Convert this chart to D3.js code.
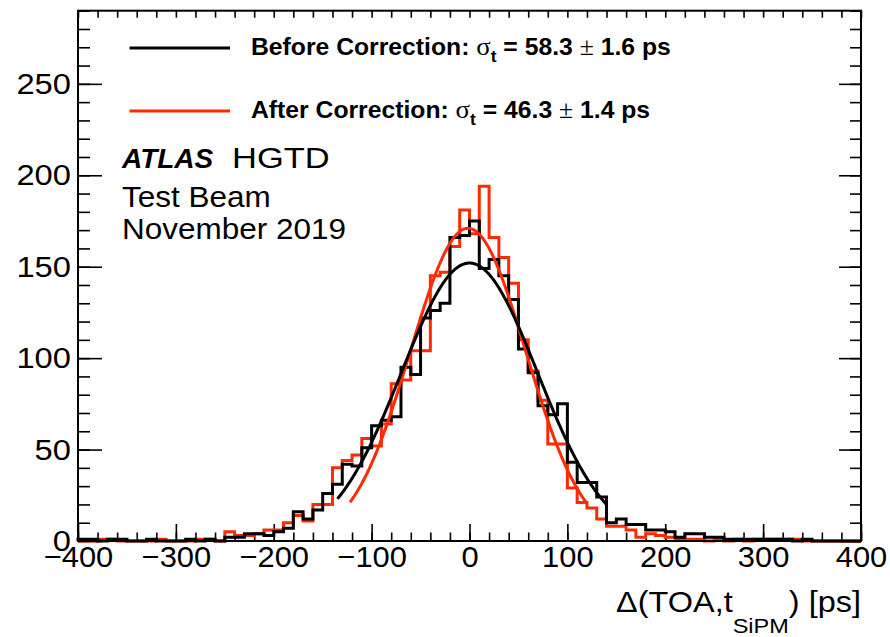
<!DOCTYPE html>
<html>
<head>
<meta charset="utf-8">
<script src="https://cdn.jsdelivr.net/npm/d3@7/dist/d3.min.js"></script>
<style>
  body { margin: 0; background: #fff; }
  svg { display: block; font-family: "Liberation Sans", Arial, Helvetica, sans-serif; }
</style>
</head>
<body>
<div class="chart"></div>
<script>
// histogram binning: 80 bins of 10 ps from -400 to 400
const binLow = d3.range(-400, 400, 10);
const binWidth = 10;

// counts before time-walk correction (black)
const before = [
  1, 1, 0, 1, 1, 0, 0, 1, 0, 0,
  0, 1, 0, 1, 0, 2, 2, 4, 4, 3,
  5, 7, 16, 12, 17, 26, 31, 42, 41, 51,
  63, 66, 68, 95, 91, 122, 126, 130, 166, 167,
  175, 149, 154, 145, 132, 105, 92, 74, 69, 75,
  43, 32, 32, 24, 10, 12, 9, 9, 6, 6,
  5, 2, 4, 4, 2, 2, 1, 1, 1, 1,
  1, 1, 1, 0, 1, 0, 0, 0, 0, 0
];

// counts after correction (red)
const after = [
  0, 0, 1, 1, 0, 0, 0, 0, 1, 0,
  0, 0, 1, 1, 0, 5, 3, 3, 4, 6,
  6, 10, 14, 11, 20, 20, 40, 44, 47, 56,
  52, 64, 86, 88, 104, 104, 145, 147, 161, 181,
  168, 194, 166, 155, 141, 110, 93, 77, 53, 53,
  29, 21, 18, 12, 8, 8, 6, 2, 4, 3,
  2, 1, 1, 1, 0, 1, 0, 1, 0, 1,
  1, 1, 1, 1, 0, 0, 0, 0, 0, 0
];

// gaussian fit curves as drawn: [amplitude, mean, width, from, to]
const fitBefore = [152, 0, 69.5, -135, 140];
const fitAfter = [171, -1.5, 59, -122, 119];

const legendText = [
  { label: 'Before Correction: ', value: ' = 58.3 ', err: ' 1.6 ps' },
  { label: 'After Correction: ', value: ' = 46.3 ', err: ' 1.4 ps' }
];
const infoLines = ['Test Beam', 'November 2019'];

const black = '#000000';
const red = '#ff2a00';

let width = 890, height = 637;
let frame = { left: 78, right: 861, top: 10.7, bottom: 541 };

let xScale = d3.scaleLinear().domain([-400, 400]).range([frame.left, frame.right]);
let yScale = d3.scaleLinear().domain([0, 290]).range([frame.bottom, frame.top]);

let svg = d3.select('.chart').append('svg')
  .attr('width', width)
  .attr('height', height);

// text placed at (x, y) and widened a little, like the ROOT Helvetica
function addText(x, y, sx) {
  return svg.append('text')
    .attr('transform', 'translate(' + x + ',' + y + ') scale(' + sx + ',1)')
    .attr('fill', black);
}

// ticks (ROOT style, inside the frame, on all four sides)
function ticks(axis, values, size, translate) {
  svg.append('g')
    .attr('transform', translate)
    .call(axis.tickValues(values).tickSize(size).tickFormat(''))
    .call(g => g.select('.domain').remove())
    .selectAll('line').attr('stroke', black).attr('stroke-width', 1.6);
}
const xMajor = d3.range(-400, 401, 100), xMinor = d3.range(-400, 401, 20);
const yMajor = d3.range(0, 291, 50), yMinor = d3.range(0, 291, 10);

ticks(d3.axisBottom(xScale), xMinor, -8.5, 'translate(0,' + frame.bottom + ')');
ticks(d3.axisBottom(xScale), xMajor, -17, 'translate(0,' + frame.bottom + ')');
ticks(d3.axisTop(xScale), xMinor, -7, 'translate(0,' + frame.top + ')');
ticks(d3.axisLeft(yScale), yMinor, -12, 'translate(' + frame.left + ',0)');
ticks(d3.axisLeft(yScale), yMajor, -24, 'translate(' + frame.left + ',0)');
ticks(d3.axisRight(yScale), yMinor, -11, 'translate(' + frame.right + ',0)');
ticks(d3.axisRight(yScale), yMajor, -22, 'translate(' + frame.right + ',0)');

// tick labels
let xAxis = d3.axisBottom(xScale).tickValues(xMajor).tickSize(0).tickPadding(4.5);
svg.append('g')
  .attr('transform', 'translate(0,' + frame.bottom + ')')
  .call(xAxis)
  .call(g => g.select('.domain').remove())
  .selectAll('text')
    .attr('font-size', 30)
    .attr('font-family', '"Liberation Sans", Arial, sans-serif')
    .attr('fill', black)
    .attr('transform', 'scale(1.03,1)');

let yAxis = d3.axisLeft(yScale).tickValues(yMajor).tickSize(0).tickPadding(6.5);
svg.append('g')
  .attr('transform', 'translate(' + frame.left + ',0)')
  .call(yAxis)
  .call(g => g.select('.domain').remove())
  .selectAll('text')
    .attr('font-size', 30)
    .attr('font-family', '"Liberation Sans", Arial, sans-serif')
    .attr('fill', black)
    .attr('transform', 'scale(1.09,1)');

// histogram outlines
function histPath(counts) {
  let pts = [[xScale(binLow[0]), yScale(0)]];
  counts.forEach(function(c, i) {
    pts.push([xScale(binLow[i]), yScale(c)]);
    pts.push([xScale(binLow[i] + binWidth), yScale(c)]);
  });
  pts.push([xScale(binLow[binLow.length - 1] + binWidth), yScale(0)]);
  return d3.line()(pts);
}

let plot = svg.append('g');
plot.append('path').attr('d', histPath(after))
  .attr('fill', 'none').attr('stroke', red).attr('stroke-width', 3);
plot.append('path').attr('d', histPath(before))
  .attr('fill', 'none').attr('stroke', black).attr('stroke-width', 3);

function fitPath(p) {
  let xs = d3.range(p[3], p[4] + 0.01, 1);
  let line = d3.line()
    .x(d => xScale(d))
    .y(d => yScale(p[0] * Math.exp(-0.5 * Math.pow((d - p[1]) / p[2], 2))));
  return line(xs);
}
plot.append('path').attr('d', fitPath(fitAfter))
  .attr('fill', 'none').attr('stroke', red).attr('stroke-width', 3);
plot.append('path').attr('d', fitPath(fitBefore))
  .attr('fill', 'none').attr('stroke', black).attr('stroke-width', 3);

// frame
svg.append('rect')
  .attr('x', frame.left).attr('y', frame.top)
  .attr('width', frame.right - frame.left)
  .attr('height', frame.bottom - frame.top)
  .attr('fill', 'none').attr('stroke', black).attr('stroke-width', 2);

// legend
const legendY = [48, 111];
const legendColor = [black, red];
legendText.forEach(function(l, i) {
  svg.append('line')
    .attr('x1', 129.5).attr('x2', 230)
    .attr('y1', legendY[i]).attr('y2', legendY[i])
    .attr('stroke', legendColor[i]).attr('stroke-width', 3);
  let t = addText(251, legendY[i] + 6.5, 1.03)
    .attr('font-size', 24)
    .attr('font-weight', 'bold');
  t.append('tspan').text(l.label);
  t.append('tspan').attr('font-family', '"Liberation Serif", serif').attr('font-weight', 'normal')
    .attr('font-size', 26).text('σ');
  t.append('tspan').attr('font-size', 17).attr('dy', 7).text('t');
  t.append('tspan').attr('dy', -7).text(l.value);
  t.append('tspan').attr('font-family', '"Liberation Serif", serif').attr('font-weight', 'normal')
    .attr('font-size', 25).text('±');
  t.append('tspan').text(l.err);
});

// ATLAS label
addText(122, 168, 1)
  .attr('font-size', 28)
  .attr('font-weight', 'bold')
  .attr('font-style', 'italic')
  .text('ATLAS');
addText(232, 168, 1.15)
  .attr('font-size', 30)
  .text('HGTD');

infoLines.forEach(function(s, i) {
  addText(122, 207 + i * 31.5, 1.05)
    .attr('font-size', 30)
    .text(s);
});

// x axis title
let title = addText(861, 612, 1.12)
  .attr('text-anchor', 'end')
  .attr('font-size', 29);
title.append('tspan').text('Δ(TOA,t');
title.append('tspan').attr('font-size', 21).attr('dy', 21).text('SiPM');
title.append('tspan').attr('dy', -21).text(') [ps]');
</script>
</body>
</html>
